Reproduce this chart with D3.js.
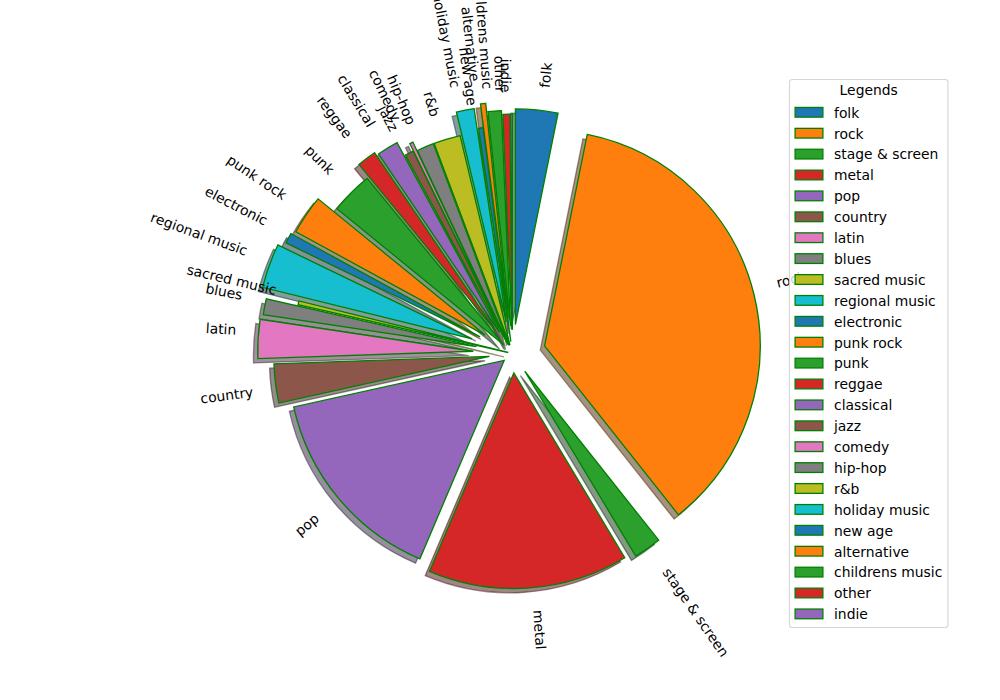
<!DOCTYPE html>
<html><head><meta charset="utf-8">
<script src="https://cdn.jsdelivr.net/npm/d3@7"></script>
<style>body{margin:0;background:#fff} svg{display:block;font-family:"DejaVu Sans",sans-serif}</style>
</head><body><svg id="chart" width="1000" height="700"></svg>
<script>
const categories = ["folk","rock","stage & screen","metal","pop","country","latin","blues","sacred music","regional music","electronic","punk rock","punk","reggae","classical","jazz","comedy","hip-hop","r&b","holiday music","new age","alternative","childrens music","other","indie"];
const values = [31.7,361.7,20.6,150,151.4,29.2,29.2,11.9,2.8,33.3,7.8,29.4,31.7,14.4,16.1,6.4,2.5,12.8,20,13.3,3.3,3.9,10,5.3,1.4];
const explode = [0.135,0.153,0.10,0.09,0.05,0.108,0.182,0.17,0.02,0.20,0.169,0.153,0.056,0.13,0.115,0.046,0.084,0.04,0.04,0.15,0.056,0.167,0.128,0.11,0.11];
const palette = ["#1f77b4","#ff7f0e","#2ca02c","#d62728","#9467bd","#8c564b","#e377c2","#7f7f7f","#bcbd22","#17becf"];
const legendTitle = "Legends";

const W=1000,H=700;
const cx=512.5, cy=353.5, R=215.6;
const fs=13.89, lw=1.3, edge="#008000";
const svg=d3.select("#chart");
svg.append("rect").attr("width",W).attr("height",H).attr("fill","#fff");

const data=categories.map((c,i)=>({name:c,v:values[i],e:explode[i],color:palette[i%palette.length]}));
const pie=d3.pie().sort(null).value(d=>d.v).startAngle(0).endAngle(2*Math.PI);
const arcs=pie(data);
const arc=d3.arc().innerRadius(0).outerRadius(R);
const mid=a=>(a.startAngle+a.endAngle)/2;
function off(a){const m=mid(a), d=a.data.e*R; return [cx+d*Math.sin(m), cy-d*Math.cos(m)];}

const shadowG=svg.append("g"), wedgeG=svg.append("g"), labelG=svg.append("g");
arcs.forEach(a=>{
  const [ox,oy]=off(a);
  const c=d3.rgb(a.data.color); const sc=d3.rgb(c.r*0.3,c.g*0.3,c.b*0.3).toString();
  shadowG.append("path").attr("d",arc(a))
    .attr("transform",`translate(${ox-0.02*R},${oy+0.02*R})`)
    .attr("fill",sc).attr("fill-opacity",0.5).attr("stroke",sc).attr("stroke-opacity",0.5).attr("stroke-width",lw);
  wedgeG.append("path").attr("d",arc(a))
    .attr("transform",`translate(${ox},${oy})`)
    .attr("fill",a.data.color).attr("stroke",edge).attr("stroke-width",lw).attr("stroke-linejoin","miter");
});

// rotated labels (matplotlib rotatelabels behaviour)
arcs.forEach(a=>{
  const m=mid(a); const [ox,oy]=off(a);
  const xt=ox+1.1*R*Math.sin(m), yt=oy-1.1*R*Math.cos(m);
  const right = xt>cx, upper = yt<cy;
  const rot = 90 - m*180/Math.PI + (right?0:180);
  const t=labelG.append("text").text(a.data.name).attr("font-size",fs).attr("text-anchor","middle").attr("fill","#000");
  const w=t.node().getComputedTextLength();
  const h=13.44, r=rot*Math.PI/180;
  const bw=Math.abs(w*Math.cos(r))+Math.abs(h*Math.sin(r));
  const bh=Math.abs(w*Math.sin(r))+Math.abs(h*Math.cos(r));
  const bx = right? xt+bw/2 : xt-bw/2;
  const by = upper? yt-bh/2 : yt+bh/2;
  t.attr("transform",`translate(${bx},${by}) rotate(${-rot})`).attr("y",3.83);
});

// legend
const lg=svg.append("g");
const fx=789.5, fy=cy-274, fh=548;
const frame=lg.append("rect");
const rowsG=lg.append("g");
let maxW=0;
data.forEach((d,i)=>{
  const yc=fy+32.8+i*20.9;
  rowsG.append("rect").attr("x",fx+5.6).attr("y",yc-4.85).attr("width",27.8).attr("height",9.7)
    .attr("fill",d.color).attr("stroke",edge).attr("stroke-width",lw);
  const t=rowsG.append("text").attr("x",fx+44.5).attr("y",yc+5.3).attr("font-size",fs).attr("fill","#000").text(d.name);
  maxW=Math.max(maxW,t.node().getComputedTextLength());
});
const fw=44.5+maxW+5.6;
frame.attr("x",fx).attr("y",fy).attr("width",fw).attr("height",fh).attr("rx",2.8)
  .attr("fill","#fff").attr("fill-opacity",0.8).attr("stroke","#cccccc").attr("stroke-opacity",0.8).attr("stroke-width",1.1);
lg.append("text").attr("x",fx+fw/2).attr("y",fy+15.7).attr("text-anchor","middle").attr("font-size",fs).attr("fill","#000").text(legendTitle);
</script></body></html>
